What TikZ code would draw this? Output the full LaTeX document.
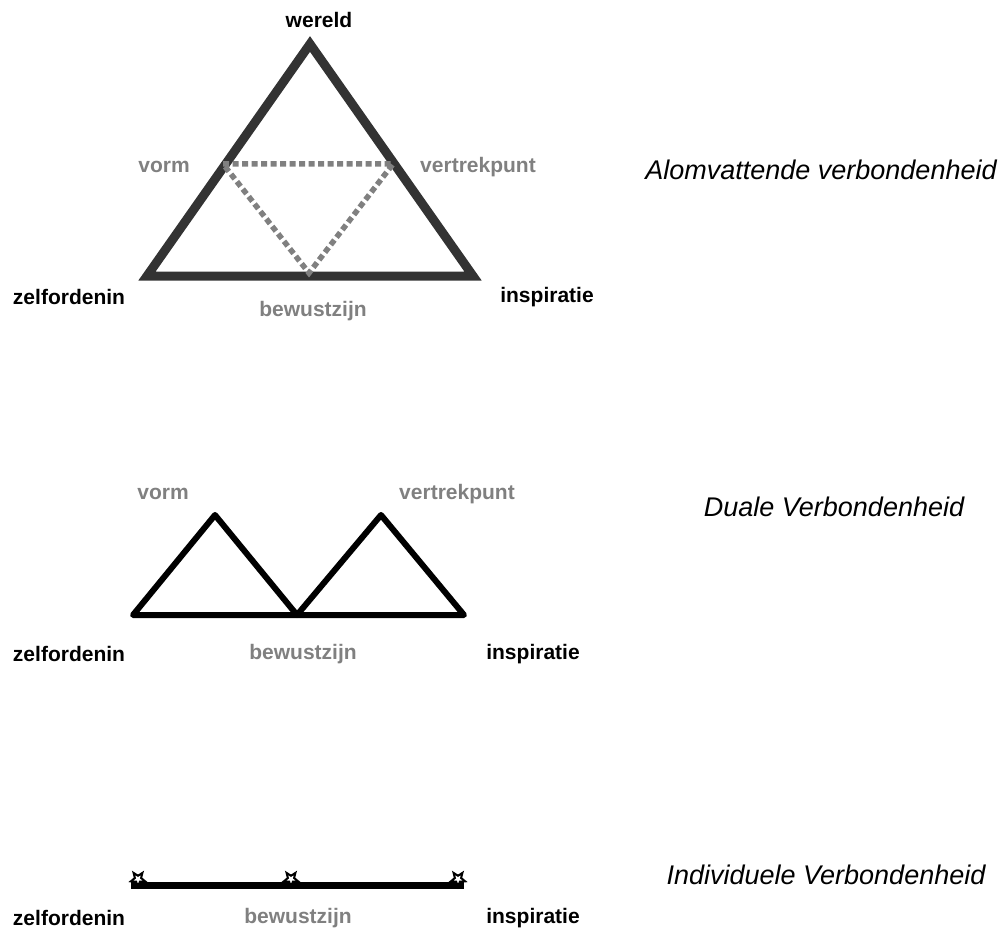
\documentclass[tikz,border=0pt]{standalone}
\usepackage{fontspec}
\setmainfont{Liberation Sans}
\usetikzlibrary{shapes.geometric}
\definecolor{framegray}{HTML}{333333}
\definecolor{softgray}{HTML}{808080}
\begin{document}
\begin{tikzpicture}[x=1pt,y=-1pt,
  lbl/.style={font=\fontsize{21}{25}\selectfont\bfseries, inner sep=0pt},
  dark/.style={lbl, text=black},
  pale/.style={lbl, text=softgray},
  title/.style={font=\fontsize{27}{31}\selectfont\itshape, inner sep=0pt},
  frame/.style={draw=framegray, line width=9pt, line join=miter},
  inner/.style={draw=softgray, line width=5.5pt, dash pattern=on 6pt off 3.5pt},
  duo/.style={draw=black, line width=6pt, line join=round},
  bar/.style={draw=black, line width=7pt},
  starmark/.style={star, star points=5, star point ratio=2.3, minimum size=15pt,
    inner sep=0pt, shape border rotate=180, draw=black, line width=2pt, fill=white}]
\useasboundingbox (0,0) rectangle (1003,933);

% --- all-encompassing connectedness: outer triangle with inner dotted one
\coordinate (t1top) at (310,44);
\coordinate (t1left) at (147,276);
\coordinate (t1right) at (473,276);
\coordinate (t1l) at (223,164);
\coordinate (t1r) at (393,164);
\coordinate (t1b) at (309,273);
\draw[frame] (t1top) -- (t1left) -- (t1right) -- cycle;
\draw[inner] (t1l) -- (t1r) -- (t1b) -- cycle;
\node[dark] (wereld) at (319,20) {wereld};
\node[pale] (vorm1) at (164,167) {vorm};
\node[pale] (vert1) at (478,167) {vertrekpunt};
\node[dark] (zelf1) at (69,297) {zelfordenin};
\node[pale] (bew1) at (313,311) {bewustzijn};
\node[dark] (insp1) at (547,297) {inspiratie};
\node[title] (alom) at (821,170) {Alomvattende verbondenheid};

% --- dual connectedness: two adjoining triangles
\coordinate (d1) at (133,615);
\coordinate (d2) at (215,515);
\coordinate (d3) at (297,615);
\coordinate (d4) at (381,515);
\coordinate (d5) at (464,615);
\draw[duo] (d1) -- (d2) -- (d3) -- cycle;
\draw[duo] (d3) -- (d4) -- (d5) -- cycle;
\node[pale] (vorm2) at (163,494) {vorm};
\node[pale] (vert2) at (457,494) {vertrekpunt};
\node[dark] (zelf2) at (69,654) {zelfordenin};
\node[pale] (bew2) at (303,654) {bewustzijn};
\node[dark] (insp2) at (533,654) {inspiratie};
\node[title] (duale) at (834,507) {Duale Verbondenheid};

% --- individual connectedness: a single bar with three stars
\coordinate (b1) at (131,885);
\coordinate (b2) at (464,885);
\draw[bar] (b1) -- (b2);
\node[starmark] (s1) at (138,879) {};
\node[starmark] (s2) at (291,879) {};
\node[starmark] (s3) at (458,879) {};
\node[dark] (zelf3) at (69,918) {zelfordenin};
\node[pale] (bew3) at (298,918) {bewustzijn};
\node[dark] (insp3) at (533,918) {inspiratie};
\node[title] (indiv) at (826,875) {Individuele Verbondenheid};
\end{tikzpicture}
\end{document}
